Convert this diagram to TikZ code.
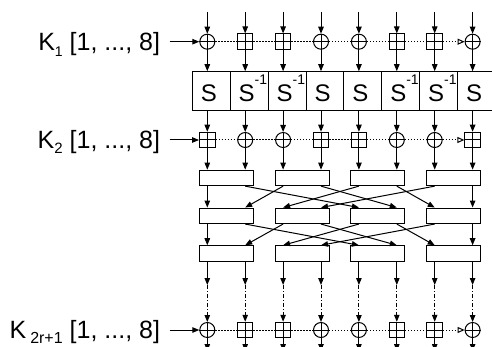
\documentclass[tikz,border=0pt]{standalone}
\usepackage{fontspec}
\setmainfont{Liberation Sans}
\usetikzlibrary{arrows.meta,calc}
\begin{document}
\begin{tikzpicture}[x=1pt,y=-1pt,line width=1pt,
  arr/.style={-{Triangle[length=7pt,width=5.5pt]}},
  xorop/.style={circle,draw,minimum size=15pt,inner sep=0pt},
  addop/.style={rectangle,draw,minimum size=15.5pt,inner sep=0pt},
  sbox/.style={rectangle,draw,minimum width=37.9pt,minimum height=39pt,inner sep=0pt},
  pht/.style={rectangle,draw,minimum width=53.9pt,minimum height=15.5pt,inner sep=0pt},
  stxt/.style={inner sep=0pt,font=\fontsize{24}{24}\selectfont},
  ktxt/.style={inner sep=0pt,font=\fontsize{25}{25}\selectfont},
  dotline/.style={dash pattern=on 1.3pt off 1.7pt},
  dashdot/.style={dash pattern=on 4pt off 2pt on 1pt off 2pt},
  openarr/.style={-{Triangle[open,length=7pt,width=6pt]}},
]
\useasboundingbox (0,0) rectangle (492,347);
\clip (0,0) rectangle (492,347);
% columns and operators
\foreach \i/\ta/\tb in {1/xorop/addop,2/addop/xorop,3/addop/xorop,4/xorop/addop,5/xorop/addop,6/addop/xorop,7/addop/xorop,8/xorop/addop}{
  \pgfmathsetmacro\xx{207.3+37.9*(\i-1)}
  \coordinate (c\i) at (\xx,0);
  \coordinate (t\i) at (\xx,12);
  \coordinate (m\i) at (\xx,285);
  \coordinate (e\i) at (\xx,351);
  \node[\ta] (p\i) at (\xx,41.7) {};
  \node[\tb] (q\i) at (\xx,140) {};
  \node[\ta] (r\i) at (\xx,330) {};
  \draw (p\i.north) -- (p\i.south) (p\i.west) -- (p\i.east);
  \draw (q\i.north) -- (q\i.south) (q\i.west) -- (q\i.east);
  \draw (r\i.north) -- (r\i.south) (r\i.west) -- (r\i.east);
}
% S-boxes
\foreach \i/\txt in {1/S,2/S\raisebox{17pt}{\fontsize{14}{14}\selectfont -1},3/S\raisebox{17pt}{\fontsize{14}{14}\selectfont -1},4/S,5/S,6/S\raisebox{17pt}{\fontsize{14}{14}\selectfont -1},7/S\raisebox{17pt}{\fontsize{14}{14}\selectfont -1},8/S}{
  \pgfmathsetmacro\sx{192.3+37.9*(\i-1)}
  \node[sbox] (S\i) at (\sx+18.95,91.2) {};
  \node[stxt,anchor=base west] (st\i) at (\sx+8,101.7) {\txt};
}
% PHT boxes
\foreach \k in {1,...,4}{
  \pgfmathsetmacro\bx{207.3+37.9*(2*\k-2)+18.95}
  \node[pht] (A\k) at (\bx,177.9) {};
  \node[pht] (B\k) at (\bx,215.8) {};
  \node[pht] (C\k) at (\bx,253.5) {};
}
% vertical connectors
\foreach \i in {1,...,8}{
  \pgfmathtruncatemacro\bk{(\i+1)/2}
  \draw[arr] (t\i) -- (p\i.north);
  \draw[arr] (p\i.south) -- (S\i.north -| c\i);
  \draw[arr] (S\i.south -| c\i) -- (q\i.north);
  \draw[arr] (q\i.south) -- (A\bk.north -| c\i);
  \draw[arr] (C\bk.south -| c\i) -- (m\i);
  \draw[dashdot,arr] (m\i) -- (r\i.north);
  \draw[arr] (r\i.south) -- (e\i);
}
% shuffle between PHT layers
\foreach \d/\s in {1/1,2/3,3/5,4/7,5/2,6/4,7/6,8/8}{
  \pgfmathtruncatemacro\bd{(\d+1)/2}
  \pgfmathtruncatemacro\bs{(\s+1)/2}
  \draw[arr] (A\bs.south -| c\s) -- (B\bd.north -| c\d);
  \draw[arr] (B\bs.south -| c\s) -- (C\bd.north -| c\d);
}
% dotted key lines
\foreach \i/\j in {1/2,2/3,3/4,4/5,5/6,6/7}{
  \draw[dotline] (p\i.east) -- (p\j.west);
  \draw[dotline] (q\i.east) -- (q\j.west);
  \draw[dotline] (r\i.east) -- (r\j.west);
}
\draw[dotline,openarr] (p7.east) -- (p8.west);
\draw[dotline,openarr] (q7.east) -- (q8.west);
\draw[dotline,openarr] (r7.east) -- (r8.west);
% key labels
\node[ktxt,anchor=base east] (k1) at (160.5,50.4) {K\raisebox{-6pt}{\fontsize{14}{14}\selectfont 1} [1, ..., 8]};
\node[ktxt,anchor=base east] (k2) at (160.5,148.7) {K\raisebox{-5pt}{\fontsize{15}{15}\selectfont 2} [1, ..., 8]};
\node[ktxt,anchor=base east] (k3) at (160.5,338.7) {K\kern4pt\raisebox{-5pt}{\fontsize{16}{16}\selectfont 2r+1} [1, ..., 8]};
\draw[arr] ($(k1.east |- p1.west)+(9,0)$) -- (p1.west);
\draw[arr] ($(k2.east |- q1.west)+(9,0)$) -- (q1.west);
\draw[arr] ($(k3.east |- r1.west)+(9,0)$) -- (r1.west);
\end{tikzpicture}
\end{document}
